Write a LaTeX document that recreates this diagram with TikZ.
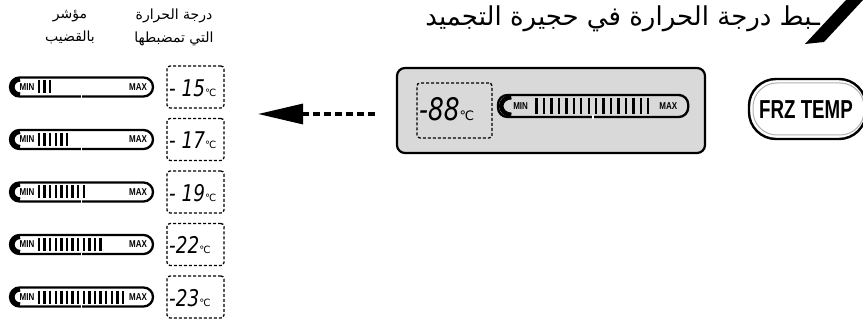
\documentclass[tikz,border=0pt]{standalone}
\usepackage{fontspec}
\usetikzlibrary{arrows.meta}
\TeXXeTstate=1
\newfontfamily\arabicfont[Script=Arabic]{DejaVu Sans}
\newfontfamily\lcdfont{DejaVu Sans}
\newfontfamily\btnfont{Liberation Sans}

% #1 name, #2 left x, #3 middle y, #4 xscale, #5 yscale, #6 number of segments
\newcommand{\lcdbar}[6]{%
\begin{scope}[shift={(#2,#3)}, xscale=#4, yscale=#5]
\draw[capsule] (0,-9.5) rectangle (143,9.5);
\draw[line width=4.5pt] (10,7.6) arc[start angle=90, end angle=270, radius=7.6];
\draw[white, line width=1.6pt] (71.5,8) -- (71.5,11.2);
\node[minmax] (#1min) at (17,0) {\scalebox{0.8}[1]{MIN}};
\node[minmax] (#1max) at (128,0) {\scalebox{0.8}[1]{MAX}};
\foreach \k in {1,...,#6}
  \draw[segment] (23.4+\k*5.6,-6.5) -- ++(0,13);
\end{scope}}

\begin{document}
\begin{tikzpicture}[x=1pt, y=-1pt,
  capsule/.style={line width=2.3pt, rounded corners=9.5pt},
  segment/.style={line width=2.3pt},
  minmax/.style={inner sep=0pt, font=\btnfont\bfseries\fontsize{10}{10}\selectfont},
  lcdbox/.style={draw, dashed, line width=1.3pt, rounded corners=3pt, dash pattern=on 3pt off 2pt,
    minimum width=57pt, minimum height=42pt, inner sep=0pt},
  lcdtext/.style={font=\lcdfont\itshape\fontsize{23}{24}\selectfont},
  header/.style={align=center, inner sep=0pt, font=\arabicfont\fontsize{14}{23}\selectfont}]
\useasboundingbox (0,0) rectangle (863,334);

% headings of the table
\node[header] (hdrbar) at (70,27) {\beginR مؤشر\endR\\\beginR بالقضيب\endR};
\node[header] (hdrtemp) at (174,27) {\beginR درجة الحرارة\endR\\\beginR التي تمضبطها\endR};

% title
\node[anchor=east, inner sep=0pt, font=\arabicfont\fontsize{26}{27}\selectfont] (title) at (820,19)
  {\beginR ـبط درجة الحرارة في حجيرة التجميد\endR};
\fill (846,0) -- (863,0) -- (824,42) -- (805,44) -- cycle;

% display panel
\draw[line width=2.2pt, rounded corners=8pt, fill=black!15] (397,68) rectangle (705,153);
\node[lcdbox, minimum width=75pt, minimum height=55pt] (set) at (454.5,110.5) {};
\node[lcdtext, anchor=west, inner sep=0pt, font=\lcdfont\itshape\fontsize{31}{32}\selectfont] (setval) at (419,109)
  {\scalebox{0.8}[1]{-88}{\normalfont\lcdfont\fontsize{13}{13}\selectfont ℃}};
\lcdbar{panel}{498}{106}{1.33}{1.16}{16}

% button
\draw[line width=2.4pt, rounded corners=27pt, fill=white] (749,79) rectangle (866,139);
\draw[black!30, line width=1pt, rounded corners=24pt] (753,83) rectangle (864,135);
\node[font=\btnfont\bfseries\fontsize{26}{28}\selectfont, inner sep=0pt] (btn) at (806,110)
  {\scalebox{0.72}[1]{FRZ TEMP}};

% arrow
\coordinate (arrowtail) at (375,114);
\coordinate (arrowtip) at (258,114);
\draw[line width=3.2pt, dash pattern=on 7pt off 4pt, -{Triangle[length=45pt,width=20pt]}] (arrowtail) -- (arrowtip);

% settings
\foreach \y/\n/\t in {87/3/{- 15}, 139.5/6/{- 17}, 192/9/{- 19}, 244.5/12/{-22}, 297/16/{-23}}{
  \lcdbar{row\n}{10}{\y}{1}{1}{\n}
  \node[lcdbox] (box\n) at (195.5,\y) {};
  \node[lcdtext, anchor=west, inner sep=0pt] (val\n) at (169,\y+1) 
    {\scalebox{0.8}[1]{\t}{\normalfont\lcdfont\fontsize{10}{10}\selectfont ℃}};
}
\end{tikzpicture}
\end{document}
